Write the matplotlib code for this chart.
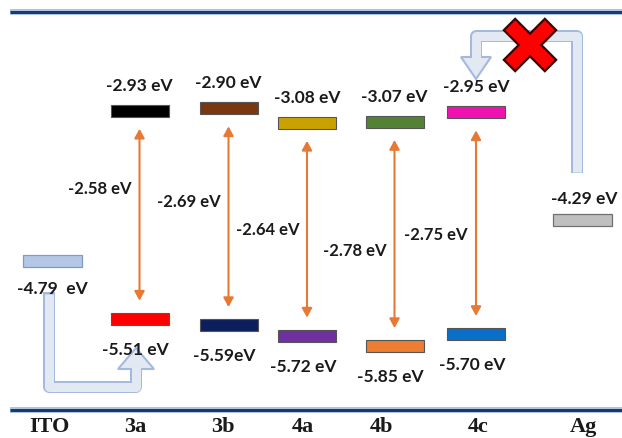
import matplotlib
matplotlib.use("Agg")
import matplotlib.pyplot as plt
from matplotlib.patches import Polygon, FancyArrowPatch
import numpy as np

# ---------------- data ----------------
categories = ['ITO', '3a', '3b', '4a', '4b', '4c', 'Ag']
materials = ['3a', '3b', '4a', '4b', '4c']
lumo = [-2.93, -2.90, -3.08, -3.07, -2.95]
homo = [-5.51, -5.59, -5.72, -5.85, -5.70]
gap = [-2.58, -2.69, -2.64, -2.78, -2.75]
ito_wf = -4.79
ag_wf = -4.29
lumo_labels = ['-2.93 eV', '-2.90 eV', '-3.08 eV', '-3.07 eV', '-2.95 eV']
homo_labels = ['-5.51 eV', '-5.59eV', '-5.72 eV', '-5.85 eV', '-5.70 eV']
gap_labels = ['-2.58 eV', '-2.69 eV', '-2.64 eV', '-2.78 eV', '-2.75 eV']
ito_label = '-4.79  eV'
ag_label = '-4.29 eV'

# ---------------- layout / style ----------------
W, H = 622, 439
col_x = {'ITO': 52.5, '3a': 139.5, '3b': 228.5, '4a': 307, '4b': 394.5, '4c': 476, 'Ag': 582.5}
cat_label_x = {'ITO': 49, '3a': 135, '3b': 223, '4a': 303, '4b': 381, '4c': 478, 'Ag': 583}
gap_label_dy = [-27, -16, 0, 16, 11]  # px, downward positive
lumo_colors = ['#000000', '#7A3810', '#C9A200', '#548235', '#F012B0']
homo_colors = ['#FF0000', '#0C1E5C', '#7030A0', '#ED7D31', '#0A6FC8']
ito_color = '#B4C7E7'
ag_color = '#BFBFBF'
E_top, E_bot = -1.544, -6.990
px_per_ev = H / (E_top - E_bot)
PT = 72 / 100.0  # points per pixel
bar_w = 58
bar_h = 12 / px_per_ev
arrow_gap = 12 / px_per_ev
txt_color = '#1a1a1a'
lab_font = dict(family='Lato', weight='bold', size=12.5, color=txt_color)
gap_font = dict(family='Lato', weight='bold', size=12, color=txt_color)

fig = plt.figure(figsize=(W / 100, H / 100), dpi=100)
deco = fig.add_axes([0, 0, 1, 1], zorder=0)
deco.set_xlim(0, W)
deco.set_ylim(H, 0)
deco.axis('off')

ax = fig.add_axes([0, 0, 1, 1], zorder=1)
ax.set_xlim(0, W)
ax.set_ylim(E_bot, E_top)
ax.axis('off')

# frame lines
for yl in (13, 411):
    deco.plot([10, W], [yl, yl], color='#A9C6EA', lw=6 * PT, solid_capstyle='butt')
    deco.plot([10, W], [yl, yl], color='#203864', lw=3 * PT, solid_capstyle='butt')

# block arrows
arr_fill = '#E3E9F3'
arr_edge = '#A4B9DE'


def block_arrow(points, head):
    xs, ys = zip(*points)
    deco.plot(xs, ys, color=arr_edge, lw=12 * PT, solid_joinstyle='round',
              solid_capstyle='butt', zorder=1)
    deco.add_patch(Polygon(head, closed=True, fc=arr_fill, ec=arr_edge, lw=1.5, zorder=2))
    pts = list(points)
    x0, y0 = pts[0]
    x1, y1 = pts[1]
    d = np.hypot(x1 - x0, y1 - y0)
    pts[0] = (x0 + (x1 - x0) / d * 1.5, y0 + (y1 - y0) / d * 1.5)
    xs, ys = zip(*pts)
    deco.plot(xs, ys, color=arr_fill, lw=9 * PT, solid_joinstyle='round',
              solid_capstyle='butt', zorder=3)


block_arrow([(49, 293), (49, 388), (136, 388), (136, 368)],
            [(118, 370), (154, 370), (136, 349)])
block_arrow([(577, 174), (577, 37), (476, 37), (476, 60)],
            [(461, 58), (491, 58), (476, 80)])

# red cross
w, L = 8, 29
plus = np.array([(w, w), (w, L), (-w, L), (-w, w), (-L, w), (-L, -w), (-w, -w),
                 (-w, -L), (w, -L), (w, -w), (L, -w), (L, w)], dtype=float)
c, s = np.cos(np.pi / 4), np.sin(np.pi / 4)
rot = np.column_stack([plus[:, 0] * c - plus[:, 1] * s, plus[:, 0] * s + plus[:, 1] * c])
rot += np.array([530, 46])
deco.add_patch(Polygon(rot, closed=True, fc='#FF0000', ec='#3a0505', lw=1.6, zorder=5))

# category labels
for cat in categories:
    deco.text(cat_label_x[cat], 432, cat, ha='center', va='baseline',
              family='Liberation Serif', weight='bold', size=16, color=txt_color)

# energy level bars
xs = [col_x[m] for m in materials]
lumo_arr = np.array(lumo)
homo_arr = np.array(homo)
ax.bar(xs, bar_h, bottom=lumo_arr - bar_h / 2, width=bar_w, color=lumo_colors,
       edgecolor='#555555', lw=0.8, zorder=3)
ax.bar(xs, bar_h, bottom=homo_arr - bar_h / 2, width=bar_w, color=homo_colors,
       edgecolor='#555555', lw=0.8, zorder=3)
ax.bar([col_x['ITO']], bar_h, bottom=ito_wf - bar_h / 2, width=bar_w + 1,
       color=ito_color, edgecolor='#7E9BC8', lw=0.9, zorder=3)
ax.bar([col_x['Ag']], bar_h, bottom=ag_wf - bar_h / 2, width=bar_w + 1,
       color=ag_color, edgecolor='#707070', lw=0.9, zorder=3)

# gap arrows and labels
for i, m in enumerate(materials):
    x = col_x[m]
    a = FancyArrowPatch((x, lumo[i] - bar_h / 2 - arrow_gap),
                        (x, homo[i] + bar_h / 2 + arrow_gap),
                        arrowstyle='<|-|>,head_length=0.55,head_width=0.3',
                        mutation_scale=10, color='#E67A34', lw=1.5, zorder=2,
                        shrinkA=0, shrinkB=0)
    ax.add_patch(a)
    mid = (lumo[i] + homo[i]) / 2
    ax.annotate(gap_labels[i], (x, mid), xytext=(-8 * PT, -gap_label_dy[i] * PT),
                textcoords='offset points', ha='right', va='center', **gap_font)
    ax.annotate(lumo_labels[i], (x, lumo[i]), xytext=(0, 26 * PT),
                textcoords='offset points', ha='center', va='center', **lab_font)
    ax.annotate(homo_labels[i], (x - 4, homo[i]), xytext=(0, -30 * PT),
                textcoords='offset points', ha='center', va='center', **lab_font)

ax.annotate(ito_label, (col_x['ITO'], ito_wf), xytext=(0, -27 * PT),
            textcoords='offset points', ha='center', va='center', **lab_font)
ax.annotate(ag_label, (col_x['Ag'] + 2, ag_wf), xytext=(0, 22 * PT),
            textcoords='offset points', ha='center', va='center', **lab_font)

fig.savefig('out.png', dpi=100)
